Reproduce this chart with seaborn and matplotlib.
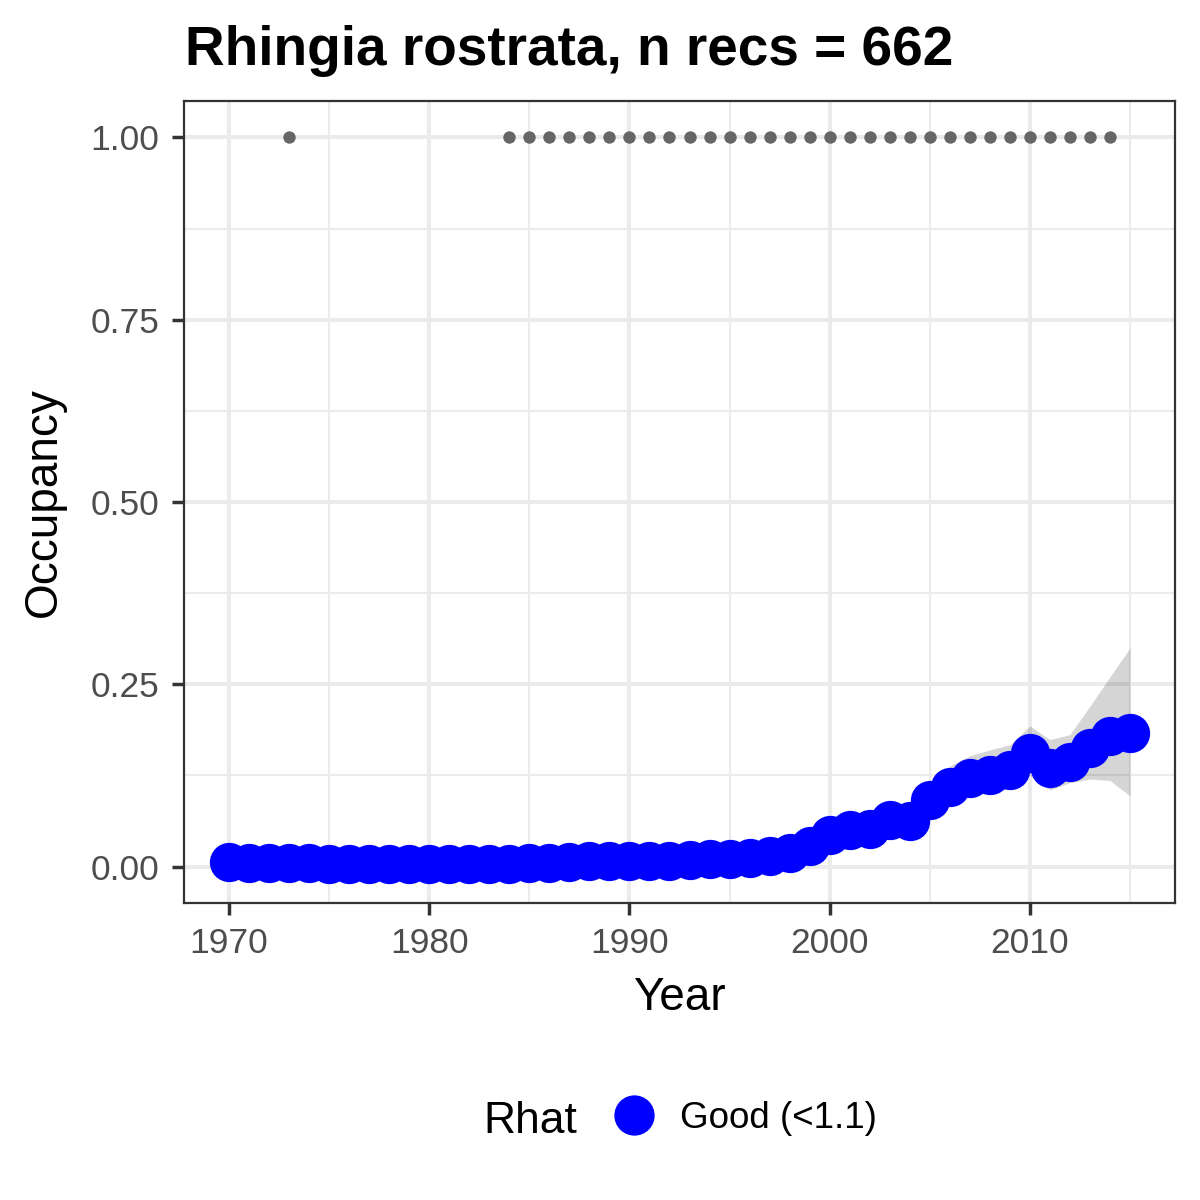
import numpy as np
import pandas as pd
import seaborn as sns
from matplotlib import pyplot as plt
from matplotlib.lines import Line2D
from matplotlib.ticker import MultipleLocator

sns.set_theme(style='whitegrid')
plt.rcParams['font.family'] = ['Liberation Sans', 'DejaVu Sans']
plt.rcParams['text.color'] = 'black'

# occupancy estimates per year
years = np.arange(1970, 2016)
occupancy = [0.0065, 0.005, 0.005, 0.005, 0.0045, 0.004, 0.0035, 0.003, 0.003, 0.003,
             0.003, 0.0035, 0.0035, 0.004, 0.004, 0.005, 0.0055, 0.006, 0.007, 0.007,
             0.007, 0.008, 0.008, 0.009, 0.010, 0.011, 0.012, 0.015, 0.019, 0.028,
             0.043, 0.050, 0.052, 0.064, 0.063, 0.091, 0.109, 0.121, 0.126, 0.133,
             0.156, 0.135, 0.144, 0.162, 0.179, 0.183]
lower = [0.003, 0.002, 0.002, 0.002, 0.002, 0.002, 0.001, 0.001, 0.001, 0.001,
         0.001, 0.001, 0.001, 0.002, 0.002, 0.002, 0.003, 0.003, 0.004, 0.004,
         0.004, 0.005, 0.005, 0.006, 0.007, 0.008, 0.009, 0.011, 0.014, 0.021,
         0.034, 0.040, 0.042, 0.052, 0.051, 0.075, 0.092, 0.097, 0.101, 0.107,
         0.125, 0.105, 0.115, 0.120, 0.118, 0.097]
upper = [0.012, 0.010, 0.010, 0.010, 0.009, 0.008, 0.007, 0.006, 0.006, 0.006,
         0.006, 0.007, 0.007, 0.008, 0.008, 0.009, 0.010, 0.011, 0.012, 0.012,
         0.012, 0.013, 0.013, 0.014, 0.015, 0.016, 0.017, 0.021, 0.026, 0.037,
         0.054, 0.062, 0.064, 0.078, 0.077, 0.108, 0.138, 0.152, 0.160, 0.167,
         0.193, 0.174, 0.181, 0.220, 0.260, 0.300]

# years with records (plotted at 1)
rec_years = [1973, 1984, 1985, 1986, 1987, 1988, 1989, 1990, 1991, 1992, 1993,
             1994, 1995, 1996, 1997, 1998, 1999, 2000, 2001, 2002, 2003, 2004,
             2005, 2006, 2007, 2008, 2009, 2010, 2011, 2012, 2013, 2014]
rec_occ = [1.0] * len(rec_years)

df = pd.DataFrame({'year': years, 'occ': occupancy, 'Rhat': 'Good (<1.1)'})

fig = plt.figure(figsize=(12, 12), dpi=100)
ax = fig.add_axes([184 / 1200, 1 - 903 / 1200, (1175 - 184) / 1200, (903 - 101) / 1200])

ax.fill_between(years, lower, upper, color='black', alpha=0.165, linewidth=0, zorder=2)
sns.scatterplot(x=rec_years, y=rec_occ, color='#666666', s=80, linewidth=0, ax=ax, zorder=3)
sns.scatterplot(data=df, x='year', y='occ', color='blue', s=800, linewidth=0,
                ax=ax, zorder=4, legend=False)

ax.set_xlim(1967.75, 2017.25)
ax.set_ylim(-0.05, 1.05)
ax.set_xticks([1970, 1980, 1990, 2000, 2010])
ax.set_yticks([0, 0.25, 0.5, 0.75, 1.0])
ax.set_yticklabels(['0.00', '0.25', '0.50', '0.75', '1.00'])
ax.xaxis.set_minor_locator(MultipleLocator(5))
ax.yaxis.set_minor_locator(MultipleLocator(0.125))
ax.grid(which='major', color='#EBEBEB', linewidth=2.9)
ax.grid(which='minor', color='#EBEBEB', linewidth=1.45)
ax.set_axisbelow(True)
ax.tick_params(which='major', direction='out', length=8.6, width=2.5, color='#333333',
               labelsize=25.5, labelcolor='#4D4D4D', pad=9, bottom=True, left=True)
ax.tick_params(which='minor', length=0)
for sp in ax.spines.values():
    sp.set_color('#333333')
    sp.set_linewidth(1.6)
ax.set_xlabel('')
ax.set_ylabel('')

fig.text(185 / 1200, 1 - 65 / 1200, 'Rhingia rostrata, n recs = 662', fontsize=39.6,
         weight='bold', va='baseline', ha='left', color='black')
fig.text(679.5 / 1200, 1 - 1010 / 1200, 'Year', fontsize=33, va='baseline',
         ha='center', color='black')
fig.text(44 / 1200, 1 - 502 / 1200, 'Occupancy', fontsize=33, rotation=90,
         va='center', ha='center', color='black')

# legend, title on the left like ggplot bottom legends
fig.text(483 / 1200, 1 - 1133 / 1200, 'Rhat', fontsize=32, va='baseline', ha='left',
         color='black')
handle = Line2D([], [], marker='o', color='blue', markersize=28, linestyle='none')
fig.legend([handle], ['Good (<1.1)'], loc='center left',
           bbox_to_anchor=(606.7 / 1200, 1 - 1118 / 1200), frameon=False,
           fontsize=26.5, handlelength=1.5, handletextpad=0.5, borderpad=0,
           borderaxespad=0, labelcolor='black')

fig.savefig('out.png', dpi=100)
